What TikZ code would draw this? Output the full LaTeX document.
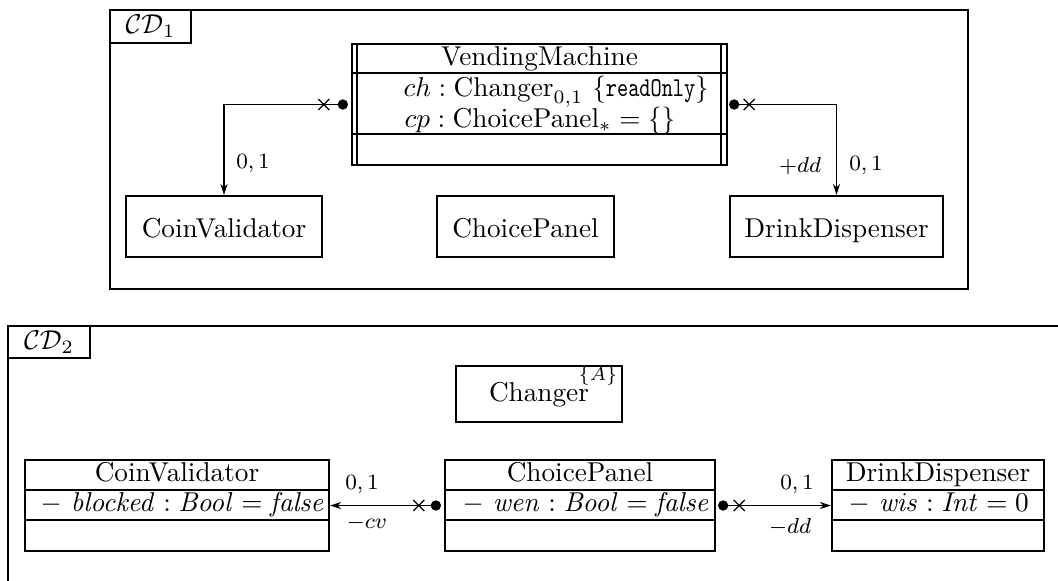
\documentclass[tikz,border=0pt]{standalone}
\usetikzlibrary{arrows.meta,calc,fit}
\begin{document}
\begin{tikzpicture}[x=0.367pt,y=-0.367pt,
  frame/.style={line width=1pt},
  classbox/.style={draw, line width=0.85pt, inner sep=0pt},
  sepline/.style={line width=0.85pt},
  txt/.style={inner sep=0pt},
  attr/.style={inner sep=0pt, anchor=base west, text height=6.5pt, text depth=1.5pt},
  assoc/.style={line width=0.4pt, -{Stealth[length=4pt,width=2.6pt]}},
  lbl/.style={font=\footnotesize, inner sep=0pt},
  xmark/.pic={\draw[line width=0.45pt] (-5.5,-5.5) -- (5.5,5.5) (-5.5,5.5) -- (5.5,-5.5);}]
\clip (0,0) rectangle (1058,580);
\useasboundingbox (0,0) rectangle (1058,580);

% ---------- class diagram CD_1 ----------
\draw[frame] (110,10) rectangle (968,289);
\draw[frame] (110,10) rectangle (191,43);
\node (cd1) at (150.5,26.5) {$\mathcal{CD}_1$};

% active class VendingMachine
\node[classbox, fit={(352,44) (727,165)}] (vm) {};
\draw[sepline] (357,44) -- (357,165) (721,44) -- (721,165)
               (352,73) -- (727,73) (352,134) -- (727,134);
\node[txt, anchor=base] (vmname) at (539.5,65) {VendingMachine};
\node[attr] (vmattA) at (403,96.5)
  {$ch : \mathrm{Changer}_{0,1}$ $\{$\scalebox{0.78}[1]{\texttt{readOnly}}$\}$};
\node[attr] (vmattB) at (404,127)
  {$cp : \mathrm{ChoicePanel}_{*} = \{\}$};

\node[classbox, fit={(126,196) (322,257)}] (cv1) {};
\node[txt, anchor=base] (cv1name) at (224,237) {CoinValidator};
\node[classbox, fit={(437,196) (614,257)}] (cp1) {};
\node[txt, anchor=base] (cp1name) at (525.5,237) {ChoicePanel};
\node[classbox, fit={(730,196) (943,257)}] (dd1) {};
\node[txt, anchor=base] (dd1name) at (836.5,237) {DrinkDispenser};

% associations of CD_1
\coordinate (vmL) at ($(vm.west)+(-8,0)$);
\draw[assoc] (vmL) -| (cv1.north);
\fill (vmL) circle[radius=1.9pt];
\pic at ($(vmL)+(-19,0)$) {xmark};
\node[lbl] (cvm) at (253,164) {$0,1$};

\coordinate (vmR) at ($(vm.east)+(6,0)$);
\draw[assoc] (vmR) -| (dd1.north);
\fill (vmR) circle[radius=1.9pt];
\pic at ($(vmR)+(15,0)$) {xmark};
\node[lbl] (ddrole) at (800,166) {$+dd$};
\node[lbl] (ddm) at (866,166) {$0,1$};

% ---------- class diagram CD_2 ----------
\draw[frame] (1070,326) -- (8,326) -- (8,600);
\draw[frame] (8,326) rectangle (90,358);
\node (cd2) at (49,342) {$\mathcal{CD}_2$};

\node[classbox, fit={(456,366) (622,422)}] (ch) {};
\node[txt, anchor=base] (chname) at (539,401) {Changer};
\node[font=\scriptsize, inner sep=0pt] (chtag) at (598,376) {$\{A\}$};

\node[classbox, fit={(25,460) (329,551)}] (cv2) {};
\draw[sepline] (25,490) -- (329,490) (25,520) -- (329,520);
\node[txt, anchor=base] (cv2name) at (177,481) {CoinValidator};
\node[attr] (cv2att) at (40,511)
  {$-\ \mathit{blocked} : \mathit{Bool} = \mathit{false}$};

\node[classbox, fit={(445,460) (715,551)}] (cp2) {};
\draw[sepline] (445,490) -- (715,490) (445,520) -- (715,520);
\node[txt, anchor=base] (cp2name) at (580,481) {ChoicePanel};
\node[attr] (cp2att) at (462,511)
  {$-\ \mathit{wen} : \mathit{Bool} = \mathit{false}$};

\node[classbox, fit={(832,460) (1044,551)}] (dd2) {};
\draw[sepline] (832,490) -- (1044,490) (832,520) -- (1044,520);
\node[txt, anchor=base] (dd2name) at (938,481) {DrinkDispenser};
\node[attr] (dd2att) at (848,511)
  {$-\ \mathit{wis} : \mathit{Int} = 0$};

% associations of CD_2
\coordinate (cpL) at ($(cp2.west)+(-8,0)$);
\draw[assoc] (cpL) -- (cv2.east |- cpL);
\fill (cpL) circle[radius=1.9pt];
\pic at ($(cpL)+(-17,0)$) {xmark};
\node[lbl] (cv2m) at (362,485) {$0,1$};
\node[lbl] (cv2role) at (367,523) {$-cv$};

\coordinate (cpR) at ($(cp2.east)+(7,0)$);
\draw[assoc] (cpR) -- (dd2.west |- cpR);
\fill (cpR) circle[radius=1.9pt];
\pic at ($(cpR)+(16,0)$) {xmark};
\node[lbl] (dd2m) at (797,485) {$0,1$};
\node[lbl] (dd2role) at (790,527) {$-dd$};
\end{tikzpicture}
\end{document}
